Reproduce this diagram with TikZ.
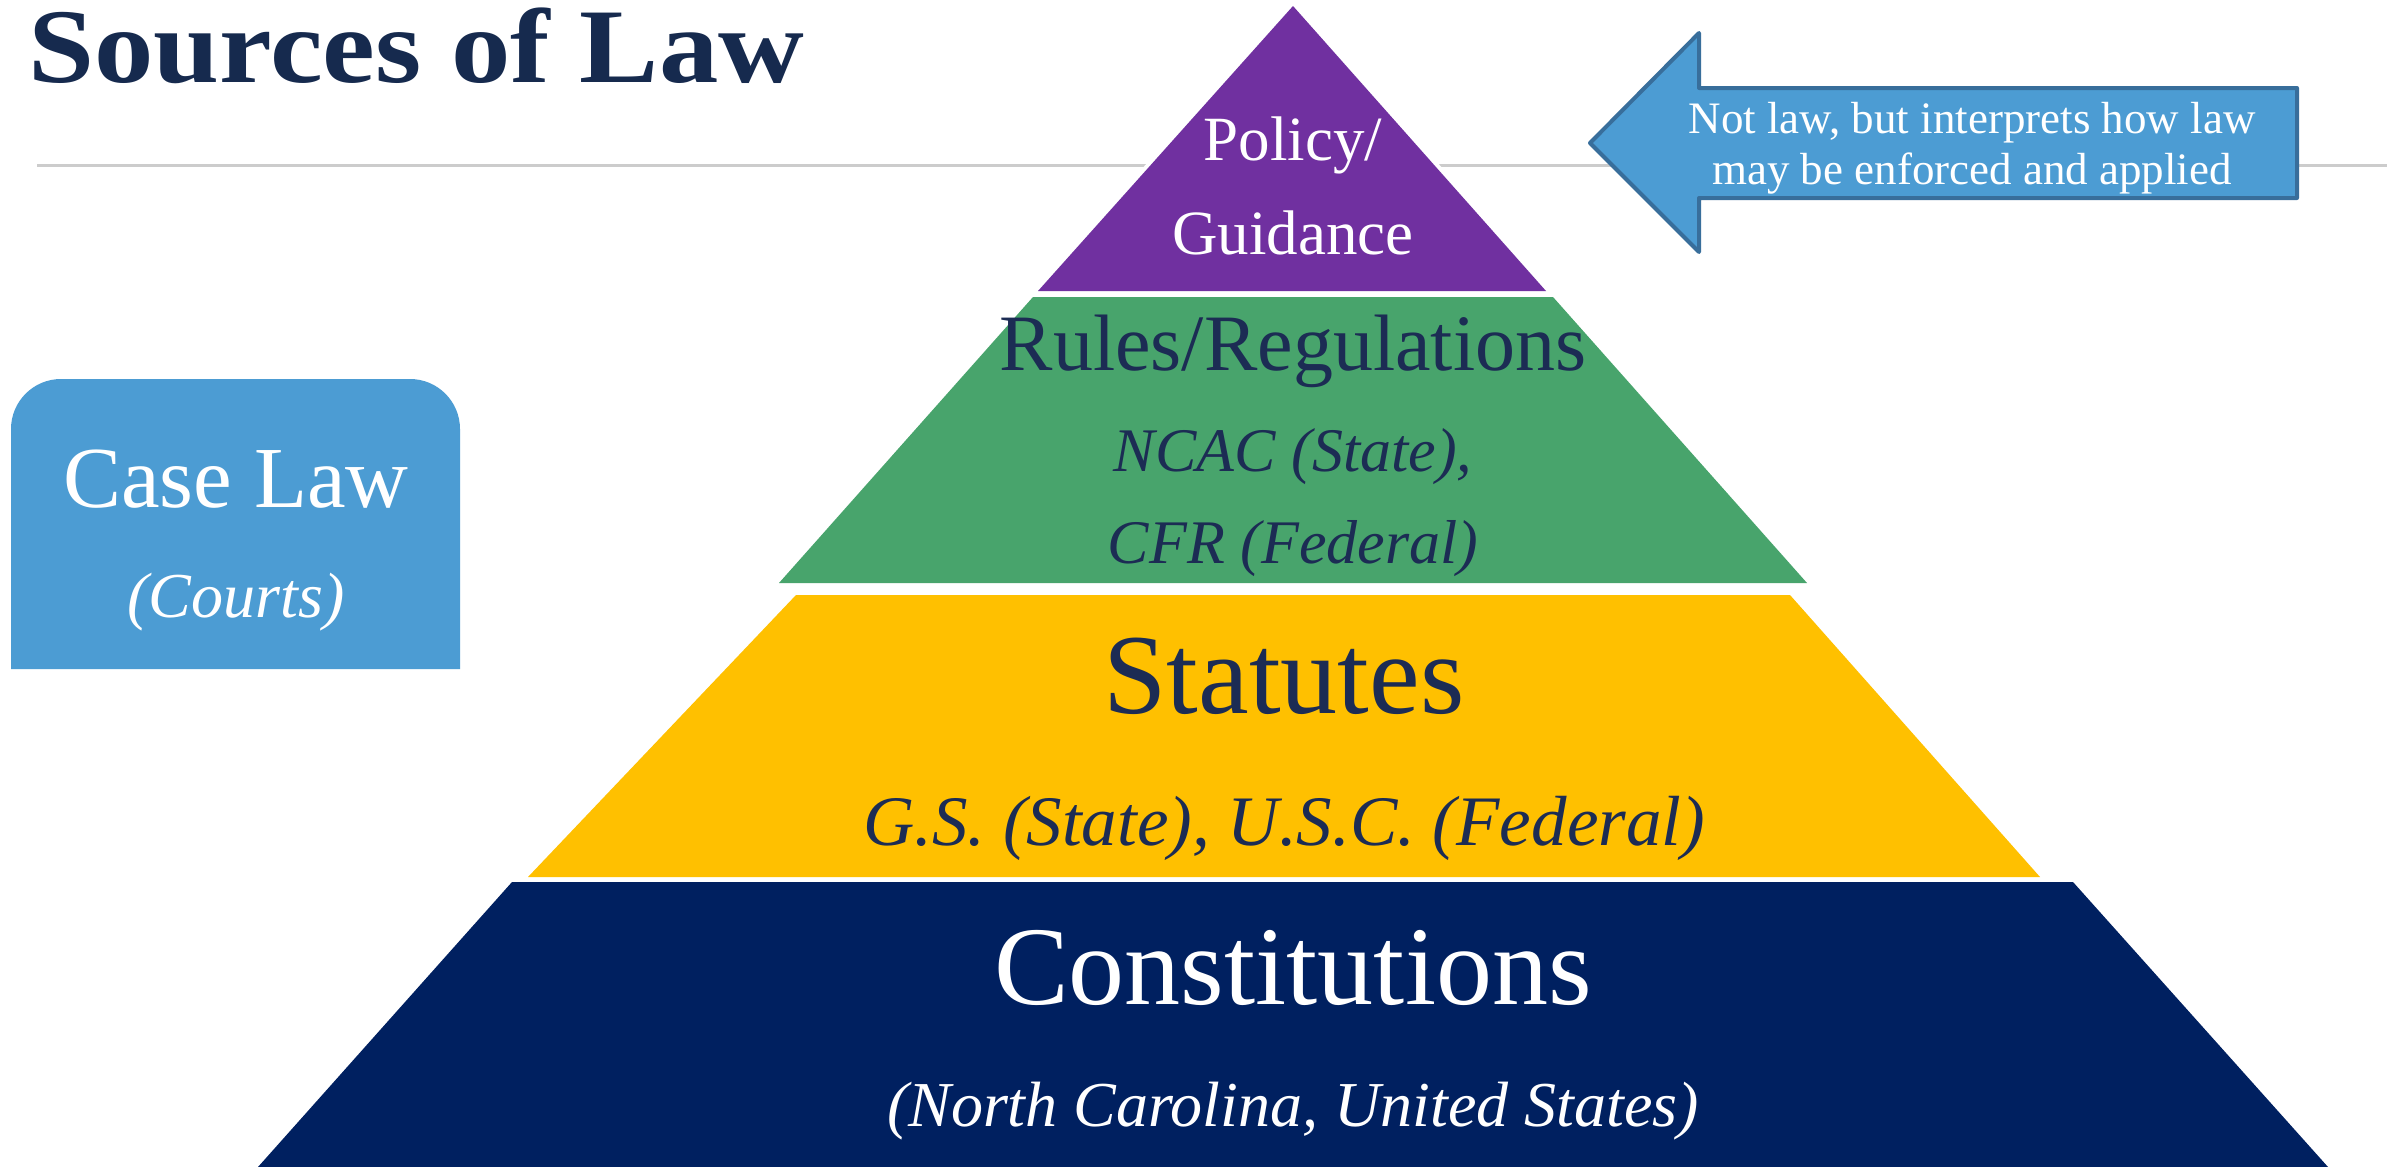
\documentclass[tikz,border=0pt]{standalone}
\usepackage{fontspec}
\setmainfont{Liberation Serif}
\definecolor{titlecol}{RGB}{22,42,78}
\definecolor{darktext}{RGB}{28,44,84}
\definecolor{rulecol}{RGB}{204,204,204}
\definecolor{purp}{RGB}{112,48,160}
\definecolor{grn}{RGB}{72,164,108}
\definecolor{yel}{RGB}{255,192,0}
\definecolor{navy}{RGB}{0,32,96}
\definecolor{skyblue}{RGB}{76,156,211}
\definecolor{arrowline}{RGB}{56,110,155}
\begin{document}
\begin{tikzpicture}[x=1pt,y=-1pt,
  txt/.style={inner sep=0pt,anchor=base},
  fs/.style={font=\fontsize{#1}{#1}\selectfont},
  fsi/.style={font=\fontsize{#1}{#1}\selectfont\itshape}]
\useasboundingbox (0,0) rectangle (2399,1167);
\fill[white] (0,0) rectangle (2399,1167);
% horizontal rule
\coordinate (ruleL) at (37,165);
\coordinate (ruleR) at (2387,165);
\draw[rulecol,line width=3] (ruleL) -- (ruleR);
% title
\node[txt,anchor=base west,text=titlecol,font=\fontsize{106}{106}\selectfont\bfseries] (title) at (28,82) {\scalebox{1.12}[1]{Sources of Law}};
% pyramid
\draw[white,line width=8,line join=round] (1293,6) -- (1546,291) -- (1038,291) -- cycle;
\fill[purp] (1293,6) -- (1546,291) -- (1038,291) -- cycle;
\fill[grn] (1033,297) -- (1553,297) -- (1807,583) -- (779,583) -- cycle;
\fill[yel] (796,595) -- (1790,595) -- (2040,877) -- (528,877) -- cycle;
\fill[navy] (512,882) -- (2073,882) -- (2328,1167) -- (258,1167) -- cycle;
% pyramid texts
\node[txt,text=white,fs=63] (policy) at (1293,160) {Policy/};
\node[txt,text=white,fs=63] (guidance) at (1293,254) {Guidance};
\node[txt,text=darktext,fs=80] (rules) at (1293,370) {Rules/Regulations};
\node[txt,text=darktext,fsi=62] (ncac) at (1293,471) {NCAC (State),};
\node[txt,text=darktext,fsi=62] (cfr) at (1293,563) {CFR (Federal)};
\node[txt,text=darktext,fs=114] (statutes) at (1284,713) {Statutes};
\node[txt,text=darktext,fsi=71] (gs) at (1284,845) {G.S. (State), U.S.C. (Federal)};
\node[txt,text=white,fs=112] (const) at (1293,1004) {Constitutions};
\node[txt,text=white,fsi=64] (nc) at (1293,1126) {(North Carolina, United States)};
% case law box
\fill[skyblue] (11,669) -- (11,429) arc[start angle=180,end angle=270,radius=50]
  -- (410,379) arc[start angle=270,end angle=360,radius=50] -- (460,669) -- cycle;
\node[txt,text=white,fs=87] (caselaw) at (236,507) {Case Law};
\node[txt,text=white,fsi=64] (courts) at (236,617) {(Courts)};
% arrow
\filldraw[fill=skyblue,draw=arrowline,line width=4,line join=round]
  (1590,143) -- (1699,33) -- (1699,88) -- (2297,88) -- (2297,198) -- (1699,198) -- (1699,252) -- cycle;
\node[txt,text=white,fs=45] (note1) at (1972,133) {Not law, but interprets how law};
\node[txt,text=white,fs=45] (note2) at (1972,184) {may be enforced and applied};
\end{tikzpicture}
\end{document}
